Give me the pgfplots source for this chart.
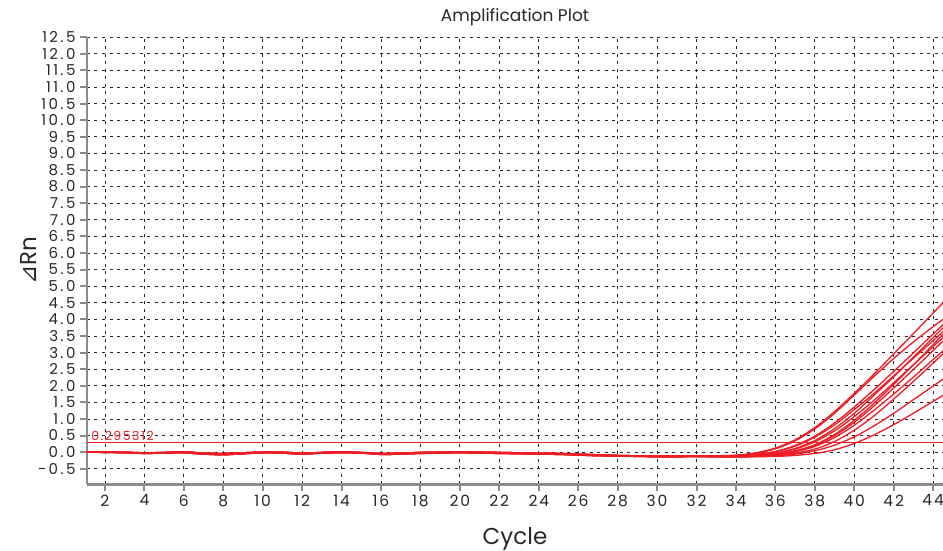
\documentclass[border=0pt]{standalone}
\usepackage{fontspec}
\setmainfont{Poppins}
\newfontfamily\dejavu{DejaVu Sans}
\newfontfamily\tickfont{Poppins}[LetterSpace=12.0]
\newfontfamily\ytickfont{Poppins}[LetterSpace=16.0]
\usepackage{pgfplots}
\usepackage{pgfplotstable}
\pgfplotsset{compat=1.18}
\definecolor{qred}{RGB}{237,28,36}
\definecolor{axgray}{RGB}{140,140,140}
\definecolor{txt}{RGB}{40,40,40}

\pgfplotstableread{
c y1 y2 y3 y4 y5 y6 y7 y8 y9 y10 y11 y12
1 0.00 0.00 0.01 0.00 0.00 0.01 0.00 0.00 0.01 0.00 0.00 0.01
2 0.00 -0.01 0.01 0.00 -0.01 0.01 0.00 -0.01 0.01 0.00 -0.01 0.01
3 -0.01 -0.02 0.00 -0.01 -0.02 0.00 -0.01 -0.02 0.00 -0.01 -0.02 0.00
4 -0.03 -0.04 -0.02 -0.03 -0.04 -0.02 -0.03 -0.04 -0.02 -0.03 -0.04 -0.02
5 -0.02 -0.03 -0.01 -0.02 -0.03 -0.01 -0.02 -0.03 -0.01 -0.02 -0.03 -0.01
6 0.00 -0.02 0.01 0.00 -0.02 0.01 0.00 -0.02 0.01 0.00 -0.02 0.01
7 -0.04 -0.06 -0.03 -0.04 -0.06 -0.03 -0.04 -0.06 -0.03 -0.04 -0.06 -0.03
8 -0.06 -0.08 -0.04 -0.06 -0.08 -0.04 -0.06 -0.08 -0.04 -0.06 -0.08 -0.04
9 -0.04 -0.05 -0.02 -0.04 -0.05 -0.02 -0.04 -0.05 -0.02 -0.04 -0.05 -0.02
10 -0.01 -0.02 0.00 -0.01 -0.02 0.00 -0.01 -0.02 0.00 -0.01 -0.02 0.00
11 -0.01 -0.03 0.00 -0.01 -0.03 0.00 -0.01 -0.03 0.00 -0.01 -0.03 0.00
12 -0.04 -0.06 -0.03 -0.04 -0.06 -0.03 -0.04 -0.06 -0.03 -0.04 -0.06 -0.03
13 -0.02 -0.03 -0.01 -0.02 -0.03 -0.01 -0.02 -0.03 -0.01 -0.02 -0.03 -0.01
14 0.00 -0.02 0.01 0.00 -0.02 0.01 0.00 -0.02 0.01 0.00 -0.02 0.01
15 -0.02 -0.03 -0.01 -0.02 -0.03 -0.01 -0.02 -0.03 -0.01 -0.02 -0.03 -0.01
16 -0.06 -0.07 -0.04 -0.06 -0.07 -0.04 -0.06 -0.07 -0.04 -0.06 -0.07 -0.04
17 -0.04 -0.06 -0.03 -0.04 -0.06 -0.03 -0.04 -0.06 -0.03 -0.04 -0.06 -0.03
18 -0.02 -0.04 -0.01 -0.02 -0.04 -0.01 -0.02 -0.04 -0.01 -0.02 -0.04 -0.01
19 -0.01 -0.03 0.00 -0.01 -0.03 0.00 -0.01 -0.03 0.00 -0.01 -0.03 0.00
20 0.00 -0.02 0.00 0.00 -0.02 0.00 0.00 -0.02 0.00 0.00 -0.02 0.00
21 -0.01 -0.03 0.00 -0.01 -0.03 0.00 -0.01 -0.03 0.00 -0.01 -0.03 0.00
22 -0.02 -0.04 -0.01 -0.02 -0.04 -0.01 -0.02 -0.04 -0.01 -0.02 -0.04 -0.01
23 -0.03 -0.05 -0.02 -0.03 -0.05 -0.02 -0.03 -0.05 -0.02 -0.03 -0.05 -0.02
24 -0.04 -0.06 -0.03 -0.04 -0.06 -0.03 -0.04 -0.06 -0.03 -0.04 -0.06 -0.03
25 -0.05 -0.07 -0.04 -0.05 -0.07 -0.04 -0.05 -0.07 -0.04 -0.05 -0.07 -0.04
26 -0.07 -0.09 -0.06 -0.07 -0.09 -0.06 -0.07 -0.09 -0.06 -0.07 -0.09 -0.06
27 -0.09 -0.11 -0.08 -0.09 -0.11 -0.08 -0.09 -0.11 -0.08 -0.09 -0.11 -0.08
28 -0.11 -0.12 -0.10 -0.11 -0.12 -0.10 -0.11 -0.12 -0.10 -0.11 -0.12 -0.10
29 -0.12 -0.13 -0.11 -0.12 -0.13 -0.11 -0.12 -0.13 -0.11 -0.12 -0.13 -0.11
30 -0.13 -0.14 -0.12 -0.13 -0.14 -0.12 -0.13 -0.14 -0.12 -0.13 -0.14 -0.12
31 -0.13 -0.14 -0.12 -0.13 -0.14 -0.12 -0.13 -0.14 -0.12 -0.13 -0.14 -0.12
32 -0.12 -0.12 -0.12 -0.13 -0.12 -0.13 -0.13 -0.13 -0.13 -0.13 -0.13 -0.13
33 -0.11 -0.12 -0.12 -0.13 -0.13 -0.13 -0.13 -0.13 -0.13 -0.14 -0.14 -0.14
34 -0.09 -0.10 -0.11 -0.13 -0.12 -0.13 -0.13 -0.13 -0.13 -0.14 -0.14 -0.15
35 -0.02 -0.04 -0.07 -0.09 -0.07 -0.11 -0.10 -0.11 -0.12 -0.13 -0.13 -0.14
36 0.12 0.10 0.02 -0.03 0.01 -0.06 -0.03 -0.07 -0.08 -0.10 -0.11 -0.13
37 0.37 0.34 0.20 0.11 0.18 0.04 0.09 0.03 0.01 -0.03 -0.06 -0.10
38 0.74 0.70 0.48 0.35 0.45 0.22 0.31 0.20 0.17 0.09 0.04 -0.04
39 1.22 1.17 0.88 0.71 0.82 0.53 0.64 0.50 0.44 0.32 0.21 0.07
40 1.77 1.72 1.36 1.17 1.28 0.96 1.07 0.90 0.81 0.66 0.46 0.26
41 2.35 2.28 1.88 1.71 1.77 1.47 1.56 1.39 1.26 1.09 0.79 0.52
42 2.96 2.82 2.43 2.27 2.30 2.04 2.09 1.93 1.75 1.60 1.17 0.83
43 3.57 3.32 2.99 2.86 2.83 2.63 2.63 2.49 2.26 2.13 1.58 1.17
44 4.19 3.78 3.56 3.45 3.36 3.24 3.18 3.06 2.79 2.68 1.99 1.53
44.5 4.50 4.00 3.84 3.75 3.63 3.55 3.45 3.35 3.05 2.96 2.20 1.71
}\ampdata

\begin{document}
\begin{tikzpicture}[x=1pt,y=1pt]
\useasboundingbox (0,0) rectangle (943,551);
\begin{axis}[
  at={(87pt,66.7pt)}, anchor=south west,
  scale only axis, width=856pt, height=447pt,
  xmin=1.09, xmax=44.5, ymin=-0.97, ymax=12.5,
  axis x line*=bottom, axis y line*=left,
  axis line style={axgray, line width=2.8pt},
  xtick={2,4,...,44},
  ytick distance=0.5,
  tick align=outside,
  major tick length=7pt,
  tick style={axgray, line width=2pt},
  grid=major,
  major grid style={black!85, dash pattern=on 3pt off 4.5pt, line width=0.8pt},
  /pgf/number format/assume math mode=true,
  yticklabel style={/pgf/number format/.cd, fixed, fixed zerofill, precision=1, /tikz/.cd, font=\ytickfont\fontsize{15}{15}\selectfont, text=txt, xshift=-1pt},
  xticklabel style={font=\tickfont\fontsize{15.5}{15.5}\selectfont, text=txt},
  title={Amplification Plot},
  title style={at={(axis description cs:0.5,1.0224)}, anchor=base, font=\fontsize{17}{17}\selectfont, text=txt},
  xlabel={Cycle},
  xlabel style={at={(axis description cs:0.5,-0.134)}, anchor=base, font=\fontsize{23}{23}\selectfont, text=txt},
  ylabel={{\dejavu ⊿}Rn},
  ylabel style={at={(axis description cs:-0.068,0.5)}, anchor=center, font=\fontsize{23}{23}\selectfont, text=txt},
]
\pgfplotsinvokeforeach{1,...,12}{
  \addplot[qred, line width=1.3pt, smooth] table[x=c, y=y#1] {\ampdata};
}
\addplot[qred, line width=1.3pt] coordinates {(1.09,0.295312) (44.5,0.295312)};
\node[anchor=south west, text=qred, font=\tickfont\fontsize{12.5}{12.5}\selectfont, inner sep=0pt] at (axis cs:1.3,0.34) {0.295312};
\end{axis}
\end{tikzpicture}
\end{document}
